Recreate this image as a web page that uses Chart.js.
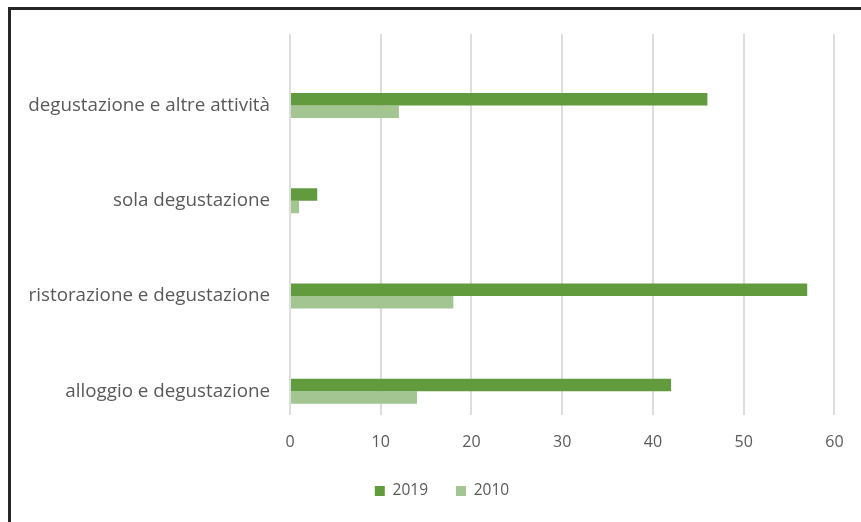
<!DOCTYPE html>
<html lang="it">
<head>
<meta charset="utf-8">
<title>Degustazione</title>
<script src="https://cdn.jsdelivr.net/npm/chart.js@4.4.1/dist/chart.umd.min.js"></script>
<style>
  html, body { margin: 0; padding: 0; background: #fff; overflow: hidden; }
  #frame {
    position: absolute; left: 8px; top: 7px; width: 900px; height: 560px;
    border-left: 3px solid #262626; border-top: 3px solid #262626;
  }
  #wrap { position: absolute; left: 0; top: 0; width: 861px; height: 522px; }
</style>
</head>
<body>
<div id="frame"></div>
<div id="wrap"><canvas id="myChart" width="861" height="522"></canvas></div>
<script>
'use strict';

// top to bottom, as shown on the axis
const categories = [
  'degustazione e altre attività',
  'sola degustazione',
  'ristorazione e degustazione',
  'alloggio e degustazione'
];
const years = ['2019', '2010'];
const values2019 = [46, 3, 57, 42];
const values2010 = [12, 1, 18, 14];
const xTicks = [0, 10, 20, 30, 40, 50, 60];

// each pair of bars sits a quarter band below the band centre
const slot = 0.75;

const textColor = '#595959';

function toPoints(vals) {
  return vals.map((v, i) => ({ x: v, y: i + slot }));
}

function chartFun() {
  let ctx = document.getElementById('myChart').getContext('2d');
  let chart = new Chart(ctx, {
    type: 'bar',
    data: {
      datasets: [{
        label: years[0],
        backgroundColor: '#629a3e',
        data: toPoints(values2019)
      },
      {
        label: years[1],
        backgroundColor: '#a3c592',
        data: toPoints(values2010)
      }]
    },
    options: {
      indexAxis: 'y',
      responsive: false,
      animation: false,
      categoryPercentage: 0.2625,
      barPercentage: 1,
      layout: { padding: { top: 34, left: 23, right: 0, bottom: 13.25 } },
      scales: {
        x: {
          type: 'linear',
          min: xTicks[0],
          max: xTicks[xTicks.length - 1],
          afterBuildTicks: (axis) => { axis.ticks = xTicks.map(v => ({ value: v })); },
          afterFit: (axis) => { axis.height = 40.25; },
          grid: { color: '#dddddd', lineWidth: 2, drawTicks: false },
          border: { display: false },
          ticks: { color: textColor, font: { family: 'Open Sans', size: 16 }, padding: 17.4 }
        },
        y: {
          type: 'linear',
          reverse: true,
          offset: false,
          min: 0,
          max: categories.length,
          afterBuildTicks: (axis) => { axis.ticks = categories.map((c, i) => ({ value: i + slot })); },
          afterFit: (axis) => { axis.width = 267; },
          grid: { display: false, drawTicks: false },
          border: { display: false },
          ticks: {
            color: textColor,
            font: { family: 'Open Sans', size: 18.8 },
            padding: 20,
            callback: (value, index) => categories[index]
          }
        }
      },
      plugins: {
        legend: {
          position: 'bottom',
          labels: {
            color: textColor,
            font: { family: 'Open Sans', size: 15.5 },
            boxWidth: 10,
            boxHeight: 10,
            padding: 28
          }
        },
        tooltip: { enabled: false }
      }
    }
  });
}

chartFun();
</script>
</body>
</html>
